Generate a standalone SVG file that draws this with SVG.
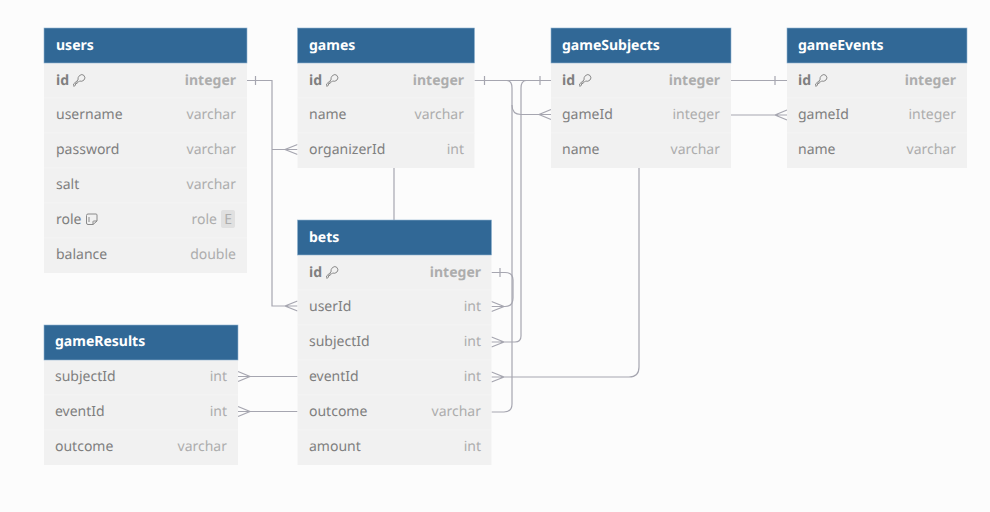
<svg xmlns="http://www.w3.org/2000/svg" width="990" height="512" viewBox="0 0 990 512">
<style>
text{font-family:"Noto Sans","Open Sans",sans-serif;font-size:14px;text-rendering:geometricPrecision}
.bg{fill:#f1f1f1}
.hd{fill:#316896;stroke:#8fb2cf;stroke-width:.6}
.ht{fill:#fff;font-weight:700}
.n{fill:#7f7f7f}
.t{fill:#adadad;text-anchor:end}
.b{font-weight:700}
.sep{stroke:#f4f4f4;stroke-width:1}
.c{fill:none;stroke:#a6a6b0;stroke-width:1.2}
.k{fill:none;stroke:#8a8a8a;stroke-width:1}
</style>
<defs>
<g id="key"><path class="k" d="M6.500 1.500Q9 -.5 11 1.500 13 4 11 6 9 8 6.500 7L5.500 8H4V9.500H2.500V11L1 12.500 .5 10 5 6Q4.500 3.500 6.500 1.500Z"/></g>
</defs>
<rect width="990" height="512" fill="#fcfcfc"/>
<g id="connectors">
<path class="c" d="M247 80.500H272V306H297.500M272 149.500H297.500M255.500 76V85M297.500 144.500 285 149.500 297.500 154.500M297.500 301 285 306 297.500 311"/>
<path class="c" d="M474.500 80.500H551M484.500 76V85M540 76V85"/>
<path class="c" d="M507 80.500Q512 81 512 88V105Q512 114.500 521 114.500H551M551 109.500 539 114.500 551 119.500"/>
<path class="c" d="M526 80.500Q521 81 521 88V336Q521 342 515 342H491.500M491.500 337 504 342 491.500 347"/>
<path class="c" d="M512 105V404Q512 412 504 412H491.500"/>
<path class="c" d="M491.500 272.500H505Q513 272.500 513 280V298Q513 306.500 505 306.500H491.500M500 268V277M491.500 301.500 504 306.500 491.500 311.500"/>
<path class="c" d="M394 168V220"/>
<path class="c" d="M639 168V367Q639 377 629 377H491.500M491.500 372 504 377 491.500 382"/>
<path class="c" d="M731 80.500H787M775 76V85M731 115H787M787 110 775 115 787 120"/>
<path class="c" d="M238 376.500H297.500M238 371.500 250 376.500 238 381.500M238 411.500H297.500M238 406.500 250 411.500 238 416.500"/>
</g>
<g id="users">
<rect class="bg" x="44" y="63" width="203" height="210"/>
<rect class="hd" x="44" y="28" width="203" height="35"/>
<path class="sep" d="M44 98H247M44 133H247M44 168H247M44 203H247M44 238H247"/>
<text class="ht" x="56" y="50">users</text>
<text class="n b" x="56" y="85">id</text><use href="#key" x="73" y="74"/><text class="t b" x="236" y="85">integer</text>
<text class="n" x="56" y="119">username</text><text class="t" x="236" y="119">varchar</text>
<text class="n" x="56" y="154">password</text><text class="t" x="236" y="154">varchar</text>
<text class="n" x="56" y="189">salt</text><text class="t" x="236" y="189">varchar</text>
<text class="n" x="56" y="224">role</text>
<path class="k" d="M88 214H96Q97 214 97 215V221L93 224.500H88Q86.500 224.500 86.500 223V215.500Q86.500 214 88 214ZM93 224.500V221.500Q93 221 94 221H97M89 217V222"/>
<text class="t" x="217" y="224">role</text>
<rect x="221" y="210" width="14" height="18" rx="2" fill="#e0e0e0"/>
<text class="t" x="232" y="224">E</text>
<text class="n" x="56" y="259">balance</text><text class="t" x="236" y="259">double</text>
</g>
<g id="games">
<rect class="bg" x="297.500" y="63" width="177" height="105"/>
<rect class="hd" x="297.500" y="28" width="177" height="35"/>
<path class="sep" d="M297.500 98H474.500M297.500 133H474.500"/>
<text class="ht" x="309" y="50">games</text>
<text class="n b" x="309" y="85">id</text><use href="#key" x="326" y="74"/><text class="t b" x="464" y="85">integer</text>
<text class="n" x="309" y="119">name</text><text class="t" x="464" y="119">varchar</text>
<text class="n" x="309" y="154">organizerId</text><text class="t" x="464" y="154">int</text>
</g>
<g id="gameSubjects">
<rect class="bg" x="551" y="63" width="180" height="105"/>
<rect class="hd" x="551" y="28" width="180" height="35"/>
<path class="sep" d="M551 98H731M551 133H731"/>
<text class="ht" x="562" y="50">gameSubjects</text>
<text class="n b" x="562" y="85">id</text><use href="#key" x="579" y="74"/><text class="t b" x="720" y="85">integer</text>
<text class="n" x="562" y="119">gameId</text><text class="t" x="720" y="119">integer</text>
<text class="n" x="562" y="154">name</text><text class="t" x="720" y="154">varchar</text>
</g>
<g id="gameEvents">
<rect class="bg" x="787" y="63" width="180" height="105"/>
<rect class="hd" x="787" y="28" width="180" height="35"/>
<path class="sep" d="M787 98H967M787 133H967"/>
<text class="ht" x="798" y="50">gameEvents</text>
<text class="n b" x="798" y="85">id</text><use href="#key" x="815" y="74"/><text class="t b" x="956" y="85">integer</text>
<text class="n" x="798" y="119">gameId</text><text class="t" x="956" y="119">integer</text>
<text class="n" x="798" y="154">name</text><text class="t" x="956" y="154">varchar</text>
</g>
<g id="bets">
<rect class="bg" x="297.500" y="255" width="194" height="210"/>
<rect class="hd" x="297.500" y="220" width="194" height="35"/>
<path class="sep" d="M297.500 290H491.500M297.500 325H491.500M297.500 360H491.500M297.500 395H491.500M297.500 430H491.500"/>
<text class="ht" x="309" y="242">bets</text>
<text class="n b" x="309" y="277">id</text><use href="#key" x="326" y="266"/><text class="t b" x="481" y="277">integer</text>
<text class="n" x="309" y="311">userId</text><text class="t" x="481" y="311">int</text>
<text class="n" x="309" y="346">subjectId</text><text class="t" x="481" y="346">int</text>
<text class="n" x="309" y="381">eventId</text><text class="t" x="481" y="381">int</text>
<text class="n" x="309" y="416">outcome</text><text class="t" x="481" y="416">varchar</text>
<text class="n" x="309" y="451">amount</text><text class="t" x="481" y="451">int</text>
</g>
<g id="gameResults">
<rect class="bg" x="44" y="360" width="194" height="105"/>
<rect class="hd" x="44" y="325" width="194" height="35"/>
<path class="sep" d="M44 395H238M44 430H238"/>
<text class="ht" x="55" y="346">gameResults</text>
<text class="n" x="55" y="381">subjectId</text><text class="t" x="227" y="381">int</text>
<text class="n" x="55" y="416">eventId</text><text class="t" x="227" y="416">int</text>
<text class="n" x="55" y="451">outcome</text><text class="t" x="227" y="451">varchar</text>
</g>
</svg>
